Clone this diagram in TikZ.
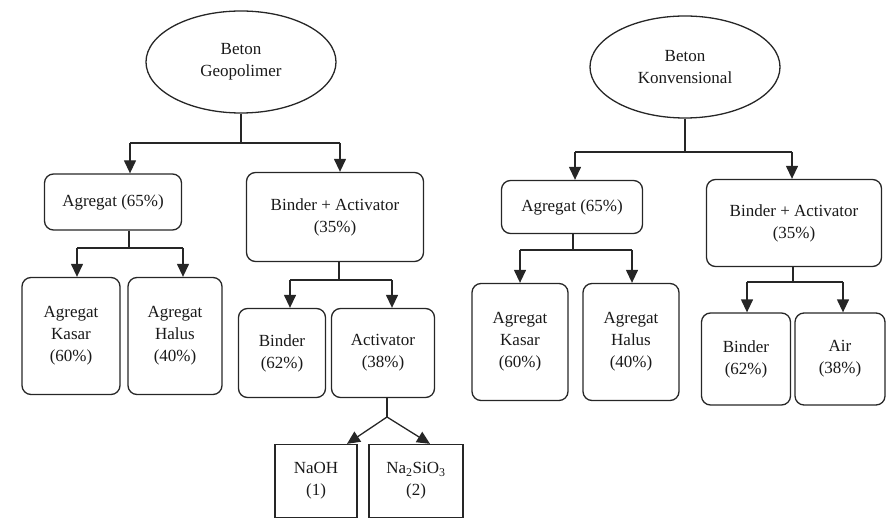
\documentclass[tikz,border=0pt]{standalone}
\usepackage{fontspec}
\setmainfont{Liberation Serif}
\usetikzlibrary{arrows.meta,shapes.geometric}

\begin{document}
\begin{tikzpicture}[x=1pt, y=-1pt, line width=1.3pt, draw=black!85,
    arr/.style={-{Triangle[length=13pt,width=12pt]}},
    kotak/.style={draw, rounded corners=9pt, align=center, inner sep=0pt,
      text=black!90, font=\fontsize{17}{22}\selectfont},
    kotaktajam/.style={kotak, rounded corners=0pt},
    elips/.style={draw, ellipse, align=center, inner sep=0pt,
      minimum width=190pt, minimum height=102pt, text=black!90,
      font=\fontsize{17}{22}\selectfont}]
    % ----------- 畫布 -----------
    \useasboundingbox (0,0) rectangle (888,521);

    % =====================================
    %        左圖:Beton Geopolimer
    % =====================================
    \node[elips] (geo) at (241,62) {Beton\\Geopolimer};

    \node[kotak, minimum width=137pt, minimum height=56pt] (agg1) at (113,202) {Agregat (65\%)};
    \node[kotak, minimum width=177pt, minimum height=89pt] (ba1) at (335,217) {Binder + Activator\\(35\%)};

    \node[kotak, minimum width=98pt, minimum height=117pt] (kas1) at (71,336) {Agregat\\Kasar\\(60\%)};
    \node[kotak, minimum width=94pt, minimum height=117pt] (hal1) at (175,336) {Agregat\\Halus\\(40\%)};
    \node[kotak, minimum width=87pt, minimum height=89pt] (bin1) at (282,353) {Binder\\(62\%)};
    \node[kotak, minimum width=103pt, minimum height=89pt] (act1) at (383,353) {Activator\\(38\%)};

    \node[kotaktajam, minimum width=82pt, minimum height=73pt] (naoh) at (316,481) {NaOH\\(1)};
    \node[kotaktajam, minimum width=94pt, minimum height=73pt] (nasio) at (416,481) {Na\textsubscript{2}SiO\textsubscript{3}\\(2)};

    % 分支
    \coordinate (jg) at (241,143);
    \coordinate (jgA) at (130,143);
    \coordinate (jgB) at (340,143);
    \draw (geo.south) -- (jg);
    \draw (jgA) -- (jgB);
    \draw[arr] (jgA) -- (jgA |- agg1.north);
    \draw[arr] (jgB) -- (jgB |- ba1.north);

    \coordinate (ja) at (129,248);
    \coordinate (jaA) at (77,248);
    \coordinate (jaB) at (183,248);
    \draw (ja |- agg1.south) -- (ja);
    \draw (jaA) -- (jaB);
    \draw[arr] (jaA) -- (jaA |- kas1.north);
    \draw[arr] (jaB) -- (jaB |- hal1.north);

    \coordinate (jb) at (339,280);
    \coordinate (jbA) at (290,280);
    \coordinate (jbB) at (392,280);
    \draw (jb |- ba1.south) -- (jb);
    \draw (jbA) -- (jbB);
    \draw[arr] (jbA) -- (jbA |- bin1.north);
    \draw[arr] (jbB) -- (jbB |- act1.north);

    % Activator 斜線
    \coordinate (jc) at (387,417);
    \draw (jc |- act1.south) -- (jc);
    \draw[arr] (jc) -- ([xshift=31pt]naoh.north);
    \draw[arr] (jc) -- ([xshift=14pt]nasio.north);

    % =====================================
    %        右圖:Beton Konvensional
    % =====================================
    \node[elips] (kon) at (685,67) {Beton\\Konvensional};

    \node[kotak, minimum width=141pt, minimum height=53pt] (agg2) at (572,207) {Agregat (65\%)};
    \node[kotak, minimum width=175pt, minimum height=87pt] (ba2) at (794,223) {Binder + Activator\\(35\%)};

    \node[kotak, minimum width=96pt, minimum height=117pt] (kas2) at (520,342) {Agregat\\Kasar\\(60\%)};
    \node[kotak, minimum width=96pt, minimum height=117pt] (hal2) at (631,342) {Agregat\\Halus\\(40\%)};
    \node[kotak, minimum width=89pt, minimum height=92pt] (bin2) at (746,359) {Binder\\(62\%)};
    \node[kotak, minimum width=90pt, minimum height=92pt] (air) at (840,359) {Air\\(38\%)};

    % 分支
    \coordinate (jk) at (685,152);
    \coordinate (jkA) at (575,152);
    \coordinate (jkB) at (792,152);
    \draw (kon.south) -- (jk);
    \draw (jkA) -- (jkB);
    \draw[arr] (jkA) -- (jkA |- agg2.north);
    \draw[arr] (jkB) -- (jkB |- ba2.north);

    \coordinate (jd) at (573,250);
    \coordinate (jdA) at (520,250);
    \coordinate (jdB) at (632,250);
    \draw (jd |- agg2.south) -- (jd);
    \draw (jdA) -- (jdB);
    \draw[arr] (jdA) -- (jdA |- kas2.north);
    \draw[arr] (jdB) -- (jdB |- hal2.north);

    \coordinate (je) at (793,282);
    \coordinate (jeA) at (747,282);
    \coordinate (jeB) at (843,282);
    \draw (je |- ba2.south) -- (je);
    \draw (jeA) -- (jeB);
    \draw[arr] (jeA) -- (jeA |- bin2.north);
    \draw[arr] (jeB) -- (jeB |- air.north);
\end{tikzpicture}
\end{document}
